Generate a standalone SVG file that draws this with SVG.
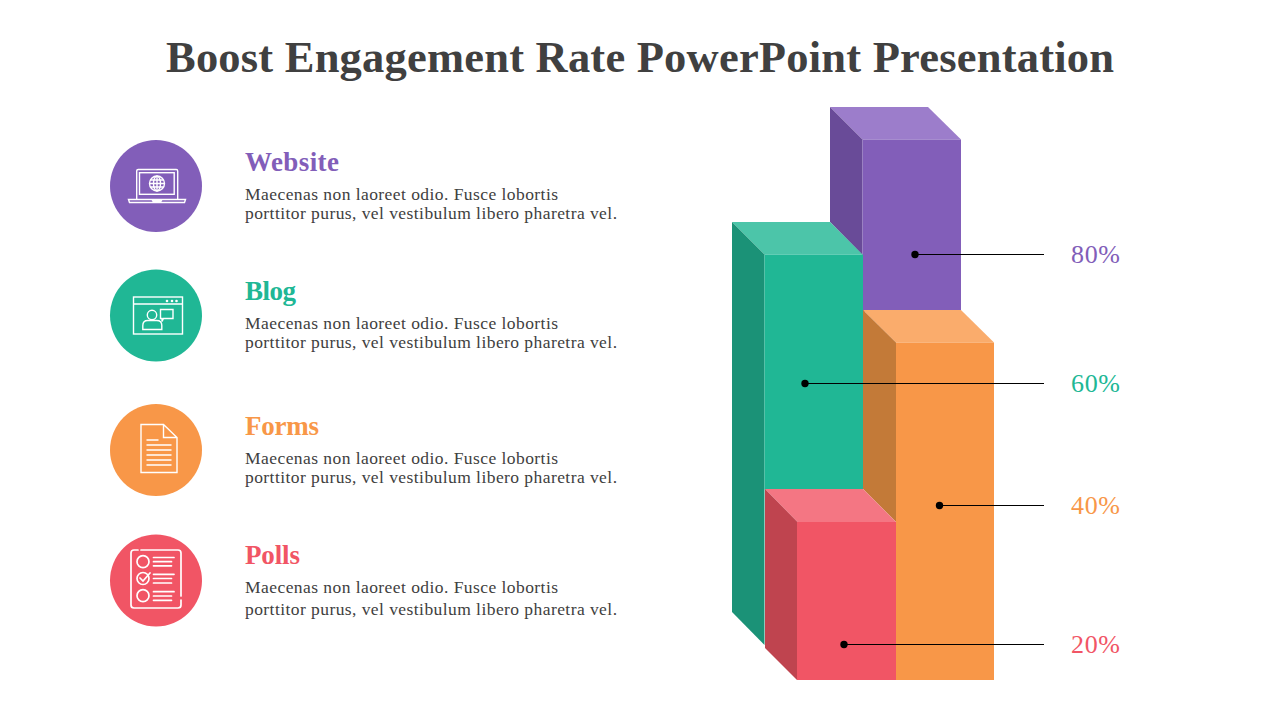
<svg xmlns="http://www.w3.org/2000/svg" width="1280" height="720" viewBox="0 0 1280 720">
<style>
text{font-family:"Liberation Serif","DejaVu Serif",serif}
.title{font-size:44.500px;font-weight:700;fill:#404040}
.h{font-size:27px;font-weight:700}
.b{font-size:17.500px;fill:#404040}
.p{font-size:26px}
.i{fill:none;stroke:#fff;stroke-width:1.400}
.c{stroke:#000;stroke-width:1;fill:none}
.pu{fill:#825eb9}.gr{fill:#20b795}.or{fill:#f89748}.re{fill:#f15565}
</style>
<rect width="1280" height="720" fill="#fff"/>
<text class="title" x="166" y="72" textLength="948" lengthAdjust="spacing">Boost Engagement Rate PowerPoint Presentation</text>

<g id="item-website">
<circle class="pu" cx="156" cy="186" r="46"/>
<g class="i"><path d="M136.700 199v-28q0-1.500 1.500-1.500h38q1.500 0 1.500 1.500v28"/><rect x="139.500" y="172.700" width="34.700" height="21.600"/><circle cx="157" cy="183.500" r="7.500"/><ellipse cx="157" cy="183.500" rx="3.500" ry="7.500"/><path d="M149.500 183.500h15M150.500 180h13M150.500 187h13M157 176v15M128.500 199.500h57l-1 3h-55zM152 199.500l1 1.500h8l1-1.500"/></g>
<text class="h pu" x="245" y="171" textLength="94">Website</text>
<text class="b" x="245" y="200" textLength="313">Maecenas non laoreet odio. Fusce lobortis</text>
<text class="b" x="245" y="219" textLength="372">porttitor purus, vel vestibulum libero pharetra vel.</text>
</g>

<g id="item-blog">
<circle class="gr" cx="156" cy="315.500" r="46"/>
<g class="i"><rect x="133.500" y="297" width="49" height="37"/><path d="M133.500 304h49M160.500 309.500h12.500v9h-9.500l-1.500 3v-3h-1.500zM142.800 329.500v-4q0-5 5-5h9q5 0 5 5v4z"/><circle cx="152" cy="315" r="4.700"/></g>
<g fill="#fff"><circle cx="167" cy="301" r="1.300"/><circle cx="172" cy="301" r="1.300"/><circle cx="176.500" cy="301" r="1.300"/></g>
<text class="h gr" x="245" y="300" textLength="51">Blog</text>
<text class="b" x="245" y="329" textLength="313">Maecenas non laoreet odio. Fusce lobortis</text>
<text class="b" x="245" y="348" textLength="372">porttitor purus, vel vestibulum libero pharetra vel.</text>
</g>

<g id="item-forms">
<circle class="or" cx="156" cy="450" r="46"/>
<g class="i"><path d="M163.500 424.500h-22.500v48h36v-35zv13h13.500"/><path d="M146.500 440h12M146.500 445h25M146.500 450h25M146.500 455h25M146.500 460h25M146.500 465h25"/></g>
<text class="h or" x="245" y="435" textLength="74">Forms</text>
<text class="b" x="245" y="464" textLength="313">Maecenas non laoreet odio. Fusce lobortis</text>
<text class="b" x="245" y="483" textLength="372">porttitor purus, vel vestibulum libero pharetra vel.</text>
</g>

<g id="item-polls">
<circle class="re" cx="156" cy="580.500" r="46"/>
<g class="i" stroke-linecap="round" style="stroke-width:1.700"><path d="M138 550h-4q-3 0-3 3v52q0 3 3 3h44q3 0 3-3v-5M181 596v-43q0-3-3-3h-37"/><circle cx="143" cy="561.700" r="6"/><circle cx="143" cy="578.500" r="6"/><circle cx="143" cy="595.700" r="6"/><path d="M140 578l3 3 7-8M153.500 557.500h20.500M153.500 561.700h18M153.500 565.800h18M153.500 574.300h20.500M153.500 578.500h18M153.500 583h18M153.500 591.700h20.500M153.500 596h18M153.500 600.300h18"/></g>
<text class="h re" x="245" y="564" textLength="55">Polls</text>
<text class="b" x="245" y="593" textLength="313">Maecenas non laoreet odio. Fusce lobortis</text>
<text class="b" x="245" y="615" textLength="372">porttitor purus, vel vestibulum libero pharetra vel.</text>
</g>

<g id="bar-80">
<polygon fill="#9c7dcb" points="830,107 928,107 961,139.500 862.500,139.500"/>
<polygon fill="#694b98" points="830,107 862.500,139.500 862.500,255 830,222"/>
<rect class="pu" x="862.500" y="139.500" width="98.500" height="172"/>
</g>
<g id="bar-40">
<polygon fill="#faac6c" points="863,310 961,310 994,342.500 896,342.500"/>
<polygon fill="#c37a38" points="863,310 896,342.500 896,522 863,489"/>
<rect class="or" x="896" y="342.500" width="98" height="337.500"/>
</g>
<g id="bar-60">
<polygon fill="#4cc5a9" points="732,222 830,222 862.500,254.500 764.500,254.500"/>
<polygon fill="#1b9277" points="732,222 764.500,254.500 764.500,645 732,612"/>
<rect class="gr" x="764.500" y="254.500" width="98.500" height="235"/>
</g>
<g id="bar-20">
<polygon fill="#f47683" points="765,489 863,489 896,522 797.500,522"/>
<polygon fill="#bf444f" points="765,489 797.500,522 797,680 765,648"/>
<rect class="re" x="797" y="522" width="99" height="158"/>
</g>

<g id="connectors">
<path class="c" d="M915 254.500H1044M805 383.500H1044M939.500 505.500H1044M844 644.500H1044"/>
<circle cx="915" cy="254.500" r="3.700"/><circle cx="805" cy="383.500" r="3.700"/><circle cx="939.500" cy="505.500" r="3.700"/><circle cx="844" cy="644.500" r="3.700"/>
</g>
<text class="p pu" x="1071" y="262.500" textLength="49">80%</text>
<text class="p gr" x="1071" y="391.500" textLength="49">60%</text>
<text class="p or" x="1071" y="513.500" textLength="49">40%</text>
<text class="p re" x="1071" y="652.500" textLength="49">20%</text>
</svg>
